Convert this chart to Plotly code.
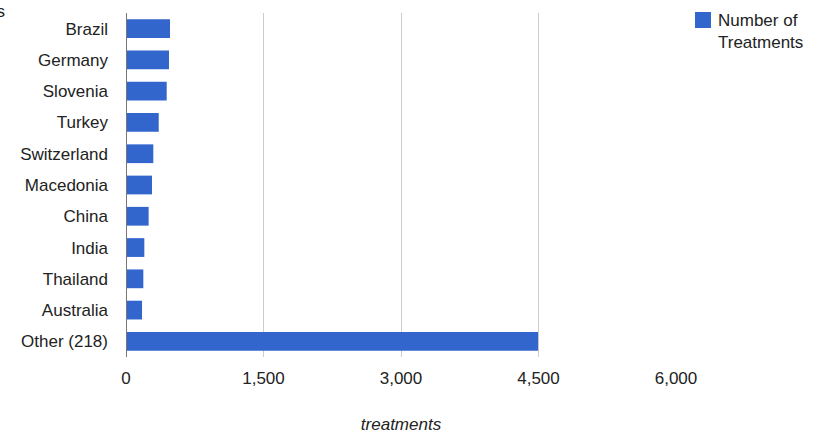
import plotly.graph_objects as go

countries = ["Brazil", "Germany", "Slovenia", "Turkey", "Switzerland", "Macedonia",
             "China", "India", "Thailand", "Australia", "Other (218)"]
treatments = [480, 469, 444, 357, 298, 284, 247, 200, 189, 175, 4495]
tick_vals = [0, 1500, 3000, 4500, 6000]
tick_text = ["0", "1,500", "3,000", "4,500", "6,000"]

W, H = 819, 436
L, R, T, B = 126, 143, 13, 79

fig = go.Figure()
fig.add_trace(go.Bar(
    y=countries, x=treatments, orientation="h",
    name="Number of<br>Treatments",
    marker=dict(color="#3366cc", line=dict(width=0)),
    showlegend=False,
))

font = dict(family="Liberation Sans, Arial, sans-serif", size=17, color="#222222")

fig.update_layout(
    width=W, height=H,
    margin=dict(l=L, r=R, t=T, b=B, pad=0, autoexpand=False),
    paper_bgcolor="white", plot_bgcolor="white",
    font=font,
    bargap=0.4,
    showlegend=False,
    xaxis=dict(
        range=[0, 6000], tickvals=tick_vals, ticktext=tick_text,
        showgrid=True, gridcolor="#cccccc", gridwidth=1,
        zeroline=False, showline=False, ticks="", ticklen=0,
        ticklabelstandoff=9, automargin=False,
        tickfont=font,
        title=dict(text="<i>treatments</i>", font=font, standoff=31),
    ),
    yaxis=dict(
        categoryorder="array", categoryarray=countries, autorange="reversed",
        showgrid=False, zeroline=False, showline=False, automargin=False,
        ticks="", ticklabelstandoff=17, tickfont=font,
    ),
)

# baseline at zero
fig.add_shape(type="line", xref="x", yref="paper", x0=0, x1=0, y0=0, y1=1,
              line=dict(color="#777777", width=2), layer="above")

# legend: swatch and label
px_x = lambda px: (px - L) / (W - L - R)
px_y = lambda py: 1 - (py - T) / (H - T - B)
fig.add_shape(type="rect", xref="paper", yref="paper",
              x0=px_x(695), x1=px_x(711), y0=px_y(28), y1=px_y(12),
              fillcolor="#3366cc", line=dict(width=0))
fig.add_annotation(xref="paper", yref="paper", x=px_x(716), y=px_y(9),
                   xanchor="left", yanchor="top", align="left", showarrow=False,
                   text="Number of<br>Treatments", font=font)

# vertical axis title, mostly cut off at the left edge
fig.add_annotation(xref="paper", yref="paper", x=px_x(7), y=px_y(12),
                   xanchor="right", yanchor="middle", showarrow=False,
                   text="countries", font=font)

fig.write_html("out.html")
